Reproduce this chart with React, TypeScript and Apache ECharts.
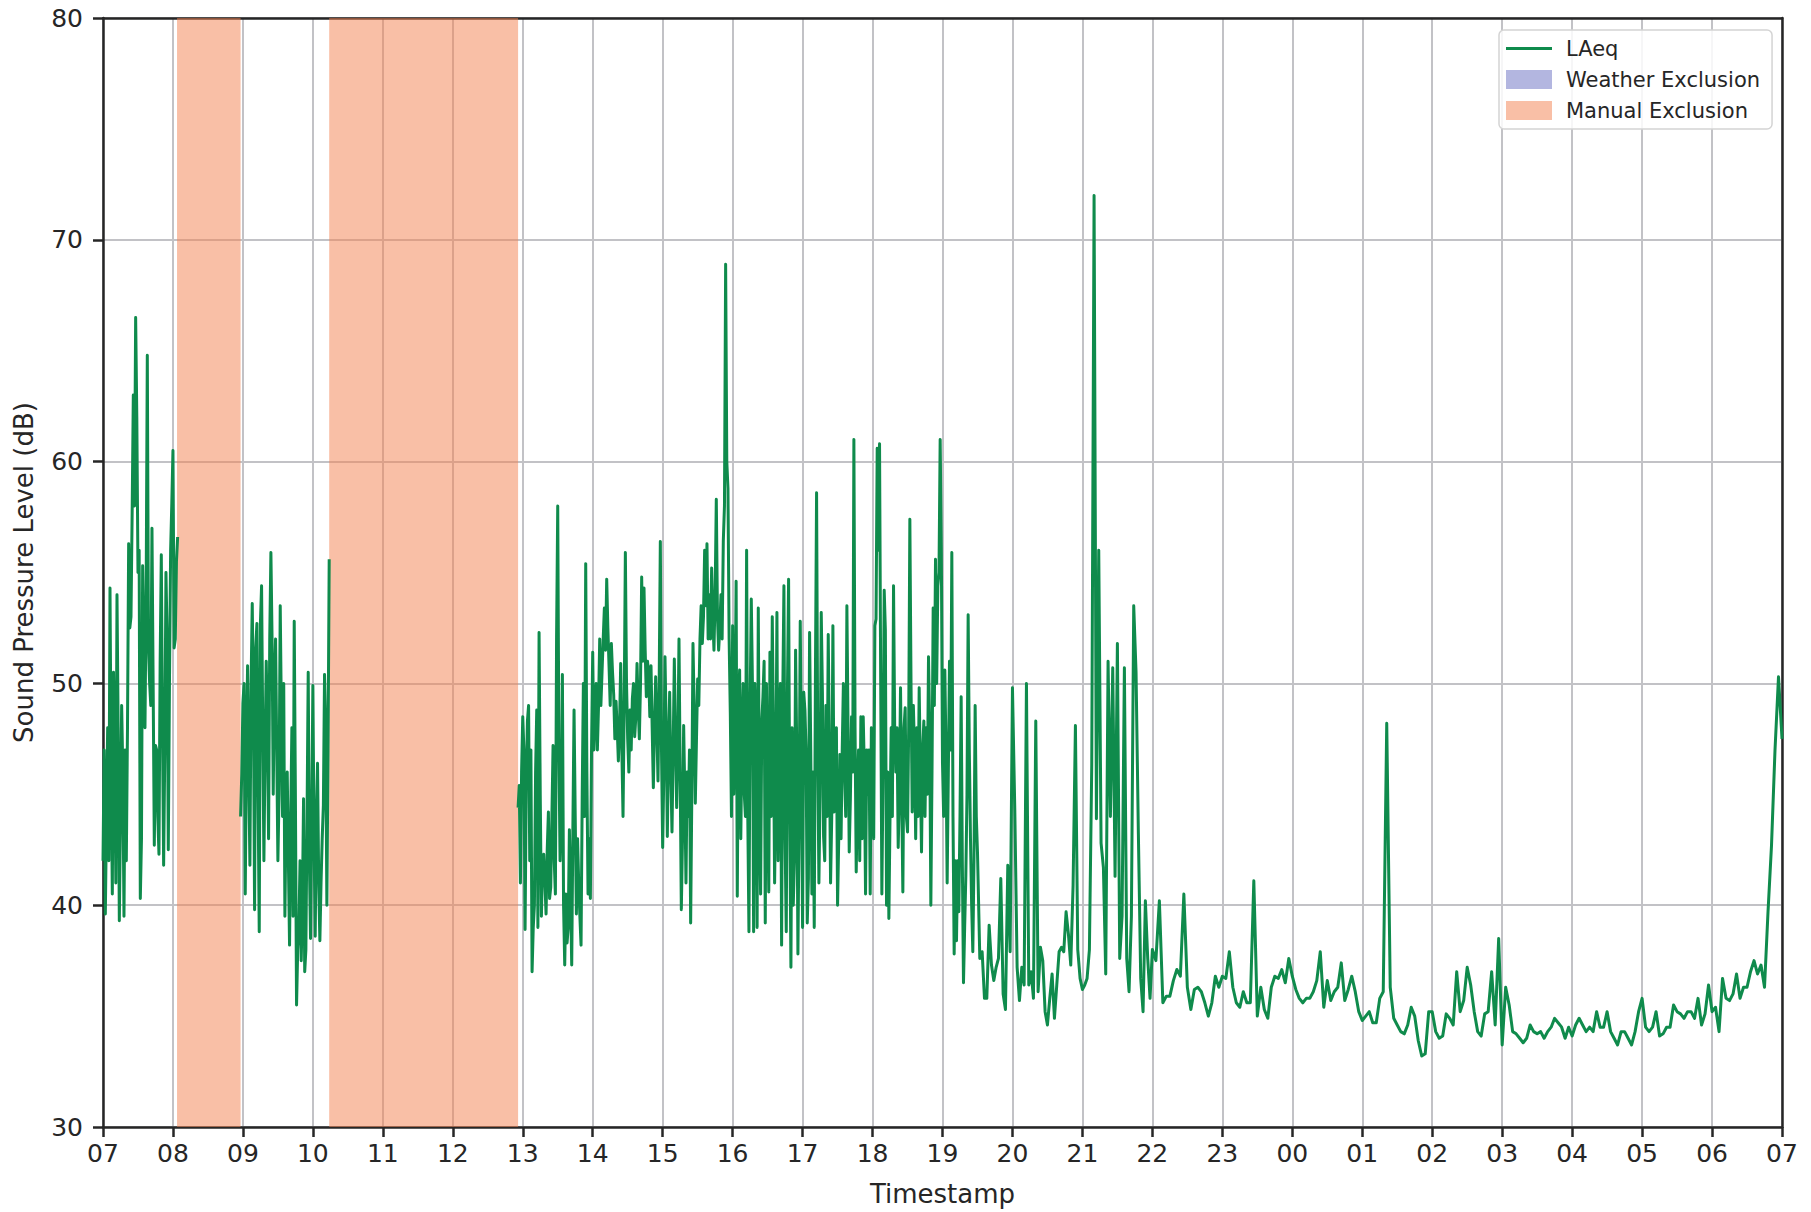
import React, { useEffect, useRef } from "react";
import * as echarts from "echarts";

// Minutes since 07:00 on the x axis
const tickLabels = ["07","08","09","10","11","12","13","14","15","16","17","18","19","20","21","22","23","00","01","02","03","04","05","06","07"];

// Segment 1: 07:00 -> 08:04 (even minutes, then odd minutes)
const seg1Start = 0;
const seg1 = [42, 39.6, 48, 54.3, 40.5, 47, 54, 39.3, 49, 39.5, 42, 56.3, 53, 63, 66.5, 55, 40.3, 55.3, 48, 64.8, 50, 57, 42.7, 47, 42.3, 55.8, 41.8, 55, 42.5, 56, 60.5, 52, 56.6];
const seg1Odd = [47, 44, 42, 46, 50.5, 41, 48, 44, 46, 47, 48, 52.5, 57.7, 58, 62, 56, 43, 52, 54, 51.6, 49, 50, 47.2, 44, 50.9, 48, 47, 52, 50, 58.1, 51.6, 55.5];

// Segment 2: 08:58 -> 10:14
const seg2Start = 118;
const seg2 = [44, 49.1, 40.5, 50.8, 41.8, 53.6, 39.8, 52.7, 38.8, 54.4, 42, 51, 43, 55.9, 45, 52, 42, 53.5, 44, 39.5, 46, 38.2, 48, 52.8, 35.5, 39, 37.5, 44.8, 38, 50.5, 38.5, 49.9, 38.6, 46.4, 38.4, 43, 50.4, 40, 55.6];
const seg2Odd = [45.9, 50, 47, 46, 50, 49, 51.6, 45, 52.7, 48, 47, 48, 52, 52, 50, 47, 45, 48.5, 50, 44, 42, 44, 39.5, 45, 38, 42, 40, 37, 44, 42, 44, 43, 44, 41, 41, 44.5, 48, 47];

// Segment 3: 12:56 -> 22:00 (even minutes; odd minutes up to ~19:30)
const seg3Start = 356;
const seg3 = [
  44.4, 41, 48.5, 38.9, 48.3, 42, 37, 40, 48.8, 52.3,
  39.5, 42.3, 39.6, 44.2, 40.8, 47.2, 40.5, 58, 42, 50.4,
  37.3, 38.3, 43.4, 37.3, 48.8, 39.6, 41, 38.2, 50, 55.4,
  40.5, 40.3, 51.4, 48.8, 47, 52, 50.5, 53.4, 54.7, 50.8,
  51.8, 49.5, 49.2, 46.5, 50.9, 44, 55.9, 47.5, 48.8, 49.3,
  47.6, 50.9, 47.5, 54.8, 54.3, 49.4, 50.4, 50.8, 45.3, 50.3,
  45.6, 56.4, 42.6, 51.2, 43.1, 49.6, 43.3, 51.1, 44.4, 52,
  39.8, 48.1, 41, 44, 39.2, 51.8, 44.6, 50.2, 52, 51.8,
  56, 56.3, 54, 55.2, 51.5, 58.3, 51.5, 54, 56.4, 68.9,
  58.8, 48.7, 52.6, 48, 40.4, 50.6, 47.6, 45, 56, 38.8,
  53.8, 38.8, 48, 53.4, 40.5, 49.4, 39.2, 45, 51.4, 53,
  41, 53.2, 48, 38.2, 54.4, 38.8, 54.7, 37.2, 40, 51.5,
  37.8, 52.8, 39, 48.8, 39.2, 52.3, 40.5, 39, 58.6, 41,
  53.2, 43.1, 49, 52.2, 41, 52.6, 46.8, 40, 46.8, 47,
  46, 53.5, 42.4, 48.5, 61, 41.5, 47, 48.5, 48.5, 40.5,
  45, 40.5, 45, 52.6, 60.6, 60.8, 40.5, 54.2, 40, 39.4,
  48, 54.4, 46, 42.6, 49.8, 40.6, 48.9, 43.3, 57.4, 44.2,
  46.9, 48, 49.8, 42.4, 48.3, 48, 51.2, 40, 53.4, 55.6,
  54.4, 61, 46.4, 50.6, 41, 51, 55.9, 37.8, 38.4, 39.7,
  49.4, 36.5, 41.3, 53.1, 43, 37.9, 49, 42.4, 37.6, 37.9,
  35.8, 35.8, 39.1, 37.3, 36.6, 37.2, 37.6, 41.2, 36, 35.3,
  41.8, 37.9, 49.8, 44.3, 37.2, 35.7, 37.2, 36.4, 50, 36.4,
  37, 35.8, 48.3, 36.1, 38.1, 37.5, 35.2, 34.6, 35.8, 36.9,
  34.9, 36.4, 37.9, 38.1, 37.9, 39.7, 38.7, 37.3, 40.9, 48.1,
  38, 36.7, 36.2, 36.4, 36.7, 38, 46.3, 72, 43.9, 56,
  42.8, 41.7, 36.9, 51, 44, 50.7, 41.3, 51.8, 37.6, 39.5,
  50.7, 37.6, 36.1, 39.5, 53.5, 50.5, 43.2, 36.7, 35.2, 40.2,
  37.6, 35.8, 38,
];
const seg3Odd = [
  45.4, 46, 47, 45.5, 49, 47, 39, 46, 39, 45,
  42, 41, 42.5, 40.3, 44, 42, 52, 47, 44, 40,
  40.5, 39, 40.5, 43.5, 44, 43, 39.5, 45, 44, 46,
  43, 47, 47, 50, 49, 49, 52, 51.5, 52.5, 49,
  50.5, 47.5, 48, 48, 47, 49, 50, 46, 47, 50,
  48.5, 49, 50, 51, 51.5, 51, 48.5, 48, 48, 48,
  50, 47, 46, 48, 47, 46, 47, 47.5, 47, 46,
  43, 45, 46, 47, 45, 49, 47.5, 49, 53.5, 53,
  53.5, 52, 52, 53, 54, 53, 52.5, 52, 58, 60,
  52, 44, 45, 54.6, 49, 43, 50, 44, 44, 49,
  50, 50, 39, 44, 48.3, 51, 50, 40.6, 44, 48,
  45, 42, 50, 49.4, 43, 49.6, 44, 48, 42, 47,
  44, 46, 49.6, 47, 41.2, 47, 46, 50.2, 47, 45,
  49.6, 42, 44, 47, 44, 44.2, 48, 43, 43, 50,
  44, 48, 44.8, 46, 48, 45, 42, 43, 46, 47,
  47, 48, 43, 52.9, 56, 50, 46, 52.4, 46, 44,
  44, 48, 48, 45, 45, 48, 44, 48, 50, 49,
  43, 44, 46, 47, 44, 45, 48, 46, 49, 50,
  55, 56, 44, 47, 46, 47, 44, 42, 42, 44,
  42, 39, 45, 47, 40, 42, 44,
];

// Segment 4: 22:03 -> 07:00, every 3 min
const seg4Start = 903;
const seg4Step = 3;
const seg4 = [
  37.5, 40.2, 35.6, 35.9, 35.9, 36.6, 37.1, 36.8, 40.5, 36.3,
  35.3, 36.2, 36.3, 36.1, 35.6, 35, 35.6, 36.8, 36.3, 36.8,
  36.7, 37.9, 36.3, 35.6, 35.4, 36.1, 35.6, 35.6, 41.1, 35,
  36.3, 35.3, 34.9, 36.3, 36.8, 36.7, 37.1, 36.5, 37.6, 36.8,
  36.2, 35.8, 35.6, 35.8, 35.8, 36.1, 36.6, 37.9, 35.4, 36.6,
  35.7, 36.1, 36.3, 37.4, 35.7, 36.2, 36.8, 36.1, 35.2, 34.8,
  35, 35.2, 34.7, 34.7, 35.8, 36.1, 48.2, 36.3, 34.9, 34.6,
  34.3, 34.2, 34.6, 35.4, 35, 33.9, 33.2, 33.3, 35.2, 35.2,
  34.3, 34, 34.1, 35.1, 34.9, 34.6, 37, 35.2, 35.7, 37.2,
  36.4, 35.2, 34.3, 34.1, 35.1, 35.2, 37, 34.6, 38.5, 33.7,
  36.3, 35.5, 34.3, 34.2, 34, 33.8, 34, 34.6, 34.3, 34.2,
  34.3, 34, 34.3, 34.5, 34.9, 34.7, 34.5, 34, 34.5, 34.1,
  34.6, 34.9, 34.6, 34.3, 34.5, 34.3, 35.2, 34.5, 34.5, 35.2,
  34.3, 34, 33.7, 34.3, 34.3, 34, 33.7, 34.3, 35.2, 35.8,
  34.5, 34.3, 34.5, 35.2, 34.1, 34.2, 34.5, 34.5, 35.5, 35.2,
  35.1, 34.9, 35.2, 35.2, 34.9, 35.8, 34.6, 35.1, 36.4, 35.2,
  35.4, 34.3, 36.7, 35.8, 35.7, 36, 36.9, 35.8, 36.3, 36.3,
  37, 37.5, 36.9, 37.3, 36.3, 39.7, 42.7, 47, 50.3, 47.5,
];

// Manual exclusion periods (minutes since 07:00)
const manualExclusions = [
  [63.5, 118],
  [194, 356],
];

const LINE_COLOR = "#0f8b4c";
const MANUAL_COLOR = "#f9bfa6";
const WEATHER_COLOR = "#b3b6e0";
const TEXT = "#262626";
const FONT = "DejaVu Sans";

function interleave(start: number, evens: number[], odds: number[]) {
  const pts: number[][] = [];
  evens.forEach((v, i) => {
    pts.push([start + 2 * i, v]);
    if (i < odds.length && i < evens.length - 1) pts.push([start + 2 * i + 1, odds[i]]);
  });
  return pts;
}

function toPoints(start: number, step: number, vals: number[]) {
  return vals.map((v, i) => [start + step * i, v]);
}

export default function App() {
  const ref = useRef<HTMLDivElement>(null);

  useEffect(() => {
    if (!ref.current) return;
    const chart = echarts.init(ref.current, undefined, { renderer: "svg" });

    const lineData: any[] = [
      ...interleave(seg1Start, seg1, seg1Odd),
      [91, null],
      ...interleave(seg2Start, seg2, seg2Odd),
      [275, null],
      ...interleave(seg3Start, seg3, seg3Odd),
      ...toPoints(seg4Start, seg4Step, seg4),
    ];

    const axisLineStyle = { color: TEXT, width: 2.5 };

    chart.setOption({
      animation: false,
      backgroundColor: "#ffffff",
      textStyle: { fontFamily: FONT, color: TEXT },
      grid: { left: 103, right: 29, top: 18, bottom: 82, containLabel: false },
      legend: {
        orient: "vertical",
        left: 1499,
        top: 30,
        padding: [8, 12, 8, 7],
        itemWidth: 46,
        itemHeight: 19,
        itemGap: 10,
        backgroundColor: "rgba(255,255,255,0.85)",
        borderColor: "#d4d4d4",
        borderWidth: 1.5,
        borderRadius: 5,
        textStyle: { fontFamily: FONT, fontSize: 21, color: TEXT, padding: [0, 0, 0, 9] },
        data: [
          { name: "LAeq", icon: "path://M0,0 L46,0 L46,3.2 L0,3.2 Z" },
          { name: "Weather Exclusion", icon: "rect" },
          { name: "Manual Exclusion", icon: "rect" },
        ],
      },
      xAxis: [
        {
          type: "value",
          min: 0,
          max: 1440,
          interval: 60,
          name: "Timestamp",
          nameLocation: "middle",
          nameGap: 54,
          nameTextStyle: { fontFamily: FONT, fontSize: 26, color: TEXT },
          axisLine: { show: true, onZero: false, lineStyle: axisLineStyle },
          axisTick: { show: true, inside: false, length: 10, lineStyle: axisLineStyle },
          axisLabel: {
            fontFamily: FONT,
            fontSize: 25,
            color: TEXT,
            margin: 14,
            formatter: (v: number) => tickLabels[Math.round(v / 60)] ?? "",
          },
          splitLine: { show: true, lineStyle: { color: "#c2c2c6", width: 2 } },
        },
        {
          type: "value",
          position: "top",
          min: 0,
          max: 1440,
          axisLine: { show: true, onZero: false, lineStyle: axisLineStyle },
          axisTick: { show: false },
          axisLabel: { show: false },
          splitLine: { show: false },
        },
      ],
      yAxis: [
        {
          type: "value",
          min: 30,
          max: 80,
          interval: 10,
          name: "Sound Pressure Level (dB)",
          nameLocation: "middle",
          nameGap: 66,
          nameTextStyle: { fontFamily: FONT, fontSize: 26, color: TEXT },
          axisLine: { show: true, onZero: false, lineStyle: axisLineStyle },
          axisTick: { show: true, inside: false, length: 10, lineStyle: axisLineStyle },
          axisLabel: { fontFamily: FONT, fontSize: 25, color: TEXT, margin: 20 },
          splitLine: { show: true, lineStyle: { color: "#c2c2c6", width: 2 } },
        },
        {
          type: "value",
          position: "right",
          min: 30,
          max: 80,
          axisLine: { show: true, onZero: false, lineStyle: axisLineStyle },
          axisTick: { show: false },
          axisLabel: { show: false },
          splitLine: { show: false },
        },
      ],
      series: [
        {
          name: "Manual Exclusion",
          type: "line",
          data: [],
          z: 1,
          color: MANUAL_COLOR,
          itemStyle: { color: MANUAL_COLOR },
          lineStyle: { color: MANUAL_COLOR },
          markArea: {
            silent: true,
            itemStyle: { color: "rgba(243,127,77,0.5)" },
            data: manualExclusions.map(([a, b]) => [{ xAxis: a }, { xAxis: b }]),
          },
        },
        {
          name: "Weather Exclusion",
          type: "line",
          data: [],
          z: 1,
          color: WEATHER_COLOR,
          itemStyle: { color: WEATHER_COLOR },
          lineStyle: { color: WEATHER_COLOR },
        },
        {
          name: "LAeq",
          type: "line",
          data: lineData,
          z: 3,
          color: LINE_COLOR,
          showSymbol: false,
          symbol: "none",
          connectNulls: false,
          lineStyle: { color: LINE_COLOR, width: 3, join: "round" },
          itemStyle: { color: LINE_COLOR },
        },
      ],
    });

    return () => chart.dispose();
  }, []);

  return (
    <div
      ref={ref}
      style={{ position: "fixed", left: 0, top: 0, width: 1811, height: 1212, background: "#fff" }}
    />
  );
}
